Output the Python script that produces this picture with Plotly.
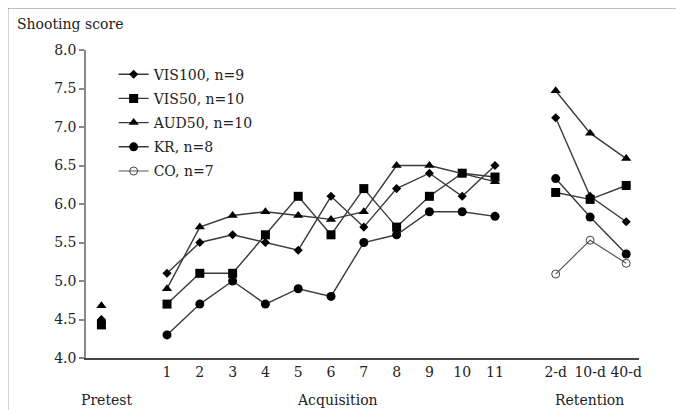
import plotly.graph_objects as go

# ---- data ----
acq_sessions = [str(i) for i in range(1, 12)]
ret_labels = ["2-d", "10-d", "40-d"]

vis100_pre = 4.50
vis100_acq = [5.1, 5.5, 5.6, 5.5, 5.4, 6.1, 5.7, 6.2, 6.4, 6.1, 6.5]
vis100_ret = [7.12, 6.10, 5.77]

vis50_pre = 4.43
vis50_acq = [4.7, 5.1, 5.1, 5.6, 6.1, 5.6, 6.2, 5.7, 6.1, 6.4, 6.35]
vis50_ret = [6.15, 6.06, 6.24]

aud50_pre = 4.68
aud50_acq = [4.9, 5.7, 5.85, 5.9, 5.85, 5.8, 5.9, 6.5, 6.5, 6.4, 6.29]
aud50_ret = [7.47, 6.92, 6.59]

kr_pre = 4.47
kr_acq = [4.3, 4.7, 5.0, 4.7, 4.9, 4.8, 5.5, 5.6, 5.9, 5.9, 5.84]
kr_ret = [6.33, 5.83, 5.35]

co_ret = [5.09, 5.53, 5.23]

# ---- layout positions of the categories on the numeric x axis ----
pre_x = -1
acq_x = list(range(1, 12))
ret_x = [12.85, 13.9, 15.0]

FONT = "DejaVu Serif"
FS = 14
LINE = "#3a3a3a"

def series(pre, acq, ret):
    xs, ys = [], []
    if pre is not None:
        xs += [pre_x, None]
        ys += [pre, None]
    if acq is not None:
        xs += acq_x + [None]
        ys += acq + [None]
    xs += ret_x
    ys += ret
    return xs, ys

fig = go.Figure()
specs = [
    ("VIS100, n=9", vis100_pre, vis100_acq, vis100_ret, "diamond", 7, "black"),
    ("VIS50, n=10", vis50_pre, vis50_acq, vis50_ret, "square", 9, "black"),
    ("AUD50, n=10", aud50_pre, aud50_acq, aud50_ret, "triangle-up", 9, "black"),
    ("KR, n=8", kr_pre, kr_acq, kr_ret, "circle", 9, "black"),
]
for i, (name, pre, acq, ret, sym, size, col) in enumerate(specs):
    xs, ys = series(pre, acq, ret)
    fig.add_trace(go.Scatter(
        x=xs, y=ys, name=name, mode="lines+markers", legendgroup=f"g{i}",
        line=dict(color=LINE, width=1.4),
        marker=dict(symbol=sym, size=size, color=col),
        connectgaps=False,
    ))

xs, ys = series(None, None, co_ret)
fig.add_trace(go.Scatter(
    x=xs, y=ys, name="CO, n=7", mode="lines+markers", legendgroup="g4",
    line=dict(color="#555555", width=1.2),
    marker=dict(symbol="circle-open", size=8, color="#444444", line=dict(width=1)),
))

# page body has an 8px margin, so the figure is 8px smaller than the window
fig.update_layout(
    width=676, height=402,
    margin=dict(l=78, r=45, t=42, b=52),
    paper_bgcolor="white", plot_bgcolor="white",
    font=dict(family=FONT, size=FS, color="#222"),
    showlegend=True,
    legend=dict(x=0.05, y=0.972, xanchor="left", yanchor="top",
                bgcolor="rgba(0,0,0,0)", font=dict(family=FONT, size=FS),
                tracegroupgap=3),
    xaxis=dict(
        range=[-1.47, 15.39], showgrid=False, zeroline=False,
        showline=True, linecolor="#444", linewidth=1.5,
        tickmode="array", tickvals=acq_x + ret_x,
        ticktext=acq_sessions + ret_labels,
        ticks="", tickfont=dict(family=FONT, size=FS),
    ),
    yaxis=dict(
        range=[4.0, 8.0], showgrid=False, zeroline=False,
        showline=True, linecolor="#888", linewidth=1.5,
        tickmode="array", tickvals=[4.0, 4.5, 5.0, 5.5, 6.0, 6.5, 7.0, 7.5, 8.0],
        ticktext=["4.0", "4.5", "5.0", "5.5", "6.0", "6.5", "7.0", "7.5", "8.0"],
        ticks="outside", ticklen=5, tickcolor="#888", tickwidth=1.5,
        tickfont=dict(family=FONT, size=FS),
    ),
)

annos = [
    dict(text="Pretest", x=pre_x + 0.15, y=-0.136, xref="x", yref="paper"),
    dict(text="Acquisition", x=6.2, y=-0.136, xref="x", yref="paper"),
    dict(text="Retention", x=13.87, y=-0.136, xref="x", yref="paper"),
]
for a in annos:
    fig.add_annotation(showarrow=False, font=dict(family=FONT, size=FS),
                       xanchor="center", yanchor="middle", **a)
fig.add_annotation(text="Shooting score", x=-0.128, y=1.086, xref="paper", yref="paper",
                   xanchor="left", yanchor="middle", showarrow=False,
                   font=dict(family=FONT, size=FS))

# frame lines (left and top)
fig.add_shape(type="line", xref="paper", yref="paper", x0=-0.143, x1=-0.143,
              y0=-0.3, y1=1.14, line=dict(color="black", width=2.5))
fig.add_shape(type="line", xref="paper", yref="paper", x0=-0.143, x1=1.2,
              y0=1.14, y1=1.14, line=dict(color="black", width=2.5))

fig.write_html("out.html")
